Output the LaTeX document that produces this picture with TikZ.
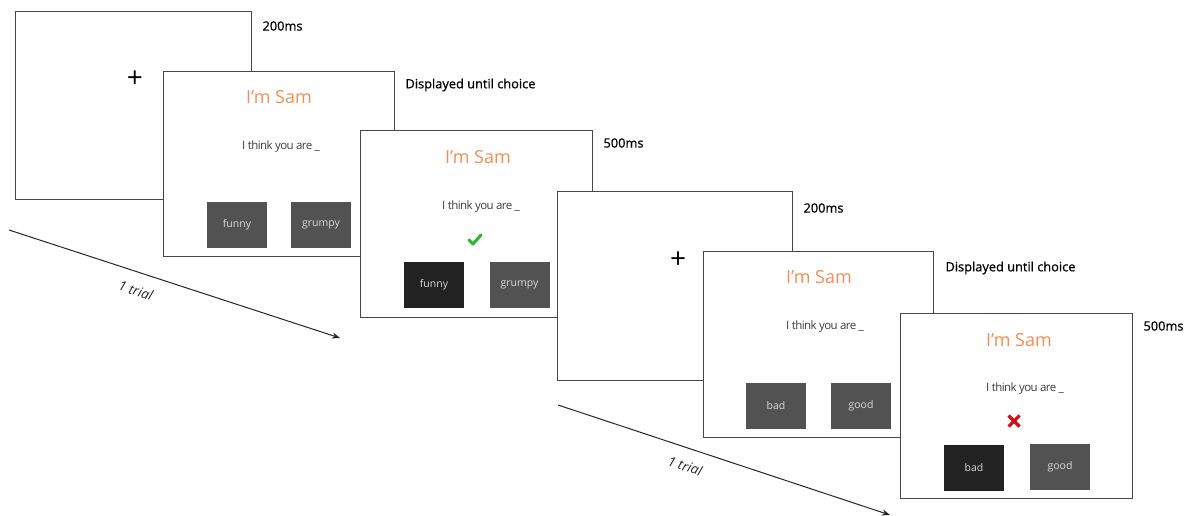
\documentclass[tikz,border=0pt]{standalone}
\usepackage{fontspec}
\setmainfont{Open Sans}
\usetikzlibrary{arrows.meta}
\definecolor{frame}{RGB}{70,70,70}
\definecolor{btn}{RGB}{82,82,82}
\definecolor{btnsel}{RGB}{34,34,34}
\definecolor{sam}{RGB}{242,142,88}
\definecolor{prompt}{RGB}{60,60,60}
\definecolor{okgreen}{RGB}{40,185,45}
\definecolor{nored}{RGB}{210,15,20}
\tikzset{
  screen/.style={draw=frame, line width=1.3pt, fill=white, anchor=north west, inner sep=0pt},
  button/.style={fill=btn, minimum width=60pt, minimum height=46pt, inner sep=0pt,
                 text=white!85!black, font=\fontsize{10.5}{11}\selectfont},
  chosen/.style={button, fill=btnsel},
  title/.style={text=sam, font=\fontsize{18}{20}\selectfont},
  ask/.style={text=prompt, font=\fontsize{11.5}{13}\selectfont\addfontfeatures{LetterSpace=-5}},
  timing/.style={anchor=west, text=black, font=\fontsize{12.8}{15}\selectfont\addfontfeatures{FakeBold=0.8}},
  fix/.style={font=\fontsize{28}{28}\selectfont},
  trialarrow/.style={draw=black!85, line width=1pt, -{Stealth[length=8pt,width=6pt]}},
  triallabel/.style={font=\fontsize{13.5}{15}\selectfont\itshape, text=black!85}
}
\begin{document}
\begin{tikzpicture}[x=1pt, y=-1pt]
\useasboundingbox[fill=white] (0,0) rectangle (1191,516);

% ---------- trial 1 ----------
\node[screen, minimum width=236pt, minimum height=188pt] (s1) at (15,11) {};
\node (plus1) at (135,79) [fix] {+};
\node[timing] (t1) at (259,26) {200ms};

\node[screen, minimum width=231pt, minimum height=185pt] (s2) at (163,71) {};
\node[title] (n2) at (279,97) {I’m Sam};
\node[ask] (q2) at (281,147) {I think you are \_};
\node[button] (b2a) at (237,224.5) {funny};
\node[button] (b2b) at (321,224.5) {grumpy};
\node[timing] (t2) at (402,85) {Displayed until choice};

\node[screen, minimum width=232pt, minimum height=187pt] (s3) at (360,130) {};
\node[title] (n3) at (478,157) {I’m Sam};
\node[ask] (q3) at (481,207) {I think you are \_};
\node[chosen] (b3a) at (434,285) {funny};
\node[button] (b3b) at (519.5,284.5) {grumpy};
\coordinate (ok) at (475,240);
\draw[okgreen, line width=3pt, line cap=round, line join=round]
  ([shift={(-6,0)}]ok) -- ([shift={(-2,4)}]ok) -- ([shift={(6,-5)}]ok);
\node[timing] (t3) at (600,143) {500ms};

\coordinate (a1s) at (9,230);
\coordinate (a1e) at (340,338);
\draw[trialarrow] (a1s) -- (a1e)
  node[triallabel, pos=0.4, sloped, below=9pt] (l1) {1 trial};

% ---------- trial 2 ----------
\node[screen, minimum width=235pt, minimum height=189pt] (s4) at (557,191) {};
\node (plus2) at (678,260) [fix] {+};
\node[timing] (t4) at (800,208) {200ms};

\node[screen, minimum width=230pt, minimum height=186pt] (s5) at (703,251) {};
\node[title] (n5) at (819,277) {I’m Sam};
\node[ask] (q5) at (825,327) {I think you are \_};
\node[button] (b5a) at (776,406) {bad};
\node[button] (b5b) at (861,406) {good};
\node[timing] (t5) at (942,268) {Displayed until choice};

\node[screen, minimum width=232pt, minimum height=185pt] (s6) at (900,313) {};
\node[title] (n6) at (1019,340) {I’m Sam};
\node[ask] (q6) at (1025,389) {I think you are \_};
\node[chosen] (b6a) at (974,467.5) {bad};
\node[button] (b6b) at (1060,467) {good};
\coordinate (no) at (1014,421);
\draw[nored, line width=3.2pt]
  ([shift={(-5.5,-5.5)}]no) -- ([shift={(5.5,5.5)}]no)
  ([shift={(-5.5,5.5)}]no) -- ([shift={(5.5,-5.5)}]no);
\node[timing] (t6) at (1140,326) {500ms};

\coordinate (a2s) at (558,405);
\coordinate (a2e) at (890,515);
\draw[trialarrow] (a2s) -- (a2e)
  node[triallabel, pos=0.4, sloped, below=9pt] (l2) {1 trial};
\end{tikzpicture}
\end{document}
